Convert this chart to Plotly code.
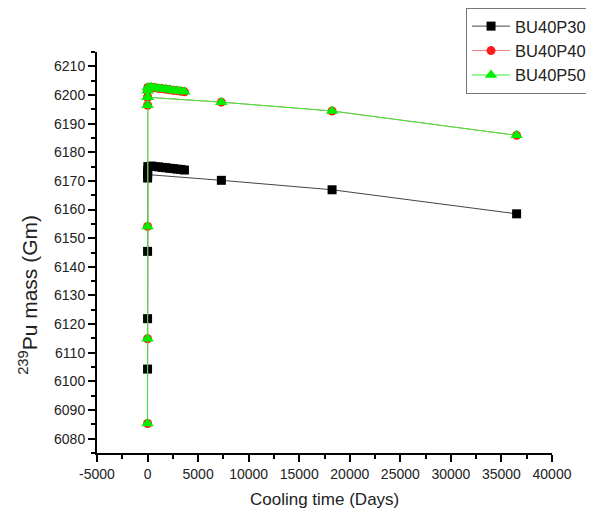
import plotly.graph_objects as go

# Short-term (discharge / Np-239 decay) points, days
short_days = [0, 1, 2, 4, 8, 16, 30]
# Yearly points, days
yearly_days = [365, 730, 1095, 1460, 1825, 2190, 2555, 2920, 3285, 3650]
# Long-term points, days
long_days = [0, 7300, 18250, 36500]

p30_short = [6104.3, 6121.9, 6145.4, 6171.0, 6172.4, 6173.7, 6175.0]
p30_yearly = [6175.2, 6175.0, 6174.9, 6174.7, 6174.6, 6174.4, 6174.3, 6174.1, 6174.0, 6173.8]
p30_long = [6172.2, 6170.2, 6166.9, 6158.5]

p40_short = [6085.3, 6114.9, 6154.1, 6196.4, 6199.2, 6201.5, 6202.6]
p40_yearly = [6202.7, 6202.5, 6202.3, 6202.2, 6202.0, 6201.8, 6201.6, 6201.5, 6201.3, 6201.1]
p40_long = [6199.2, 6197.5, 6194.4, 6185.9]

p50_short = [6085.3, 6114.9, 6154.1, 6196.4, 6199.2, 6201.5, 6202.6]
p50_yearly = [6202.7, 6202.5, 6202.3, 6202.2, 6202.0, 6201.8, 6201.6, 6201.5, 6201.3, 6201.1]
p50_long = [6199.2, 6197.5, 6194.4, 6185.9]

names = ["BU40P30", "BU40P40", "BU40P50"]

x_ticks = [-5000, 0, 5000, 10000, 15000, 20000, 25000, 30000, 35000, 40000]
y_ticks = [6080, 6090, 6100, 6110, 6120, 6130, 6140, 6150, 6160, 6170, 6180, 6190, 6200, 6210]


def join(a, b, c):
    return list(a) + list(b) + [None] + list(c)


xs = join(short_days, yearly_days, long_days)

styles = [
    dict(line=dict(color="#444444", width=1), marker=dict(symbol="square", size=9, color="black")),
    dict(line=dict(color="#f08080", width=1), marker=dict(symbol="circle", size=9, color="#ff1a1a")),
    dict(line=dict(color="#33ee33", width=1), marker=dict(symbol="triangle-up", size=11, color="#00ee00")),
]
ys = [join(p30_short, p30_yearly, p30_long),
      join(p40_short, p40_yearly, p40_long),
      join(p50_short, p50_yearly, p50_long)]

fig = go.Figure()
for name, y, st in zip(names, ys, styles):
    fig.add_trace(go.Scatter(x=xs, y=y, name=name, mode="lines+markers",
                             connectgaps=False, line=st["line"], marker=st["marker"]))

axis_common = dict(
    showline=True, linecolor="black", linewidth=2, ticks="outside", ticklen=7,
    tickwidth=2, tickcolor="black", showgrid=False, zeroline=False, mirror=False,
    automargin=False,
    tickfont=dict(family="Liberation Sans, Arial", size=14, color="#222"),
)

fig.update_layout(
    width=586, height=506,
    margin=dict(l=89, r=42, t=44, b=61, autoexpand=False),
    paper_bgcolor="white", plot_bgcolor="white",
    showlegend=True,
    legend=dict(x=1.088, y=1.11, xanchor="right", yanchor="top",
                bordercolor="#777", borderwidth=1, bgcolor="white",
                font=dict(family="Liberation Sans, Arial", size=16.5, color="#222"),
                tracegroupgap=0, itemwidth=38),
    xaxis=dict(range=[-5000, 40000], tickvals=x_ticks,
               ticktext=[str(v) for v in x_ticks],
               minor=dict(ticks="outside", ticklen=4, tickwidth=2, tickcolor="black", dtick=2500),
               **axis_common),
    yaxis=dict(range=[6075, 6215], tickvals=y_ticks,
               ticktext=[str(v) for v in y_ticks],
               minor=dict(ticks="outside", ticklen=4, tickwidth=2, tickcolor="black", dtick=5),
               **axis_common),
    annotations=[
        dict(text="Cooling time (Days)", xref="paper", yref="paper", x=0.5, y=-0.115,
             xanchor="center", yanchor="middle", showarrow=False,
             font=dict(family="Liberation Sans, Arial", size=17, color="#222")),
        dict(text="<sup>239</sup>Pu mass (Gm)", xref="paper", yref="paper", x=-0.152, y=0.394,
             xanchor="center", yanchor="middle", textangle=-90, showarrow=False,
             font=dict(family="Liberation Sans, Arial", size=21, color="#222")),
    ],
)

fig.write_html("out.html")
